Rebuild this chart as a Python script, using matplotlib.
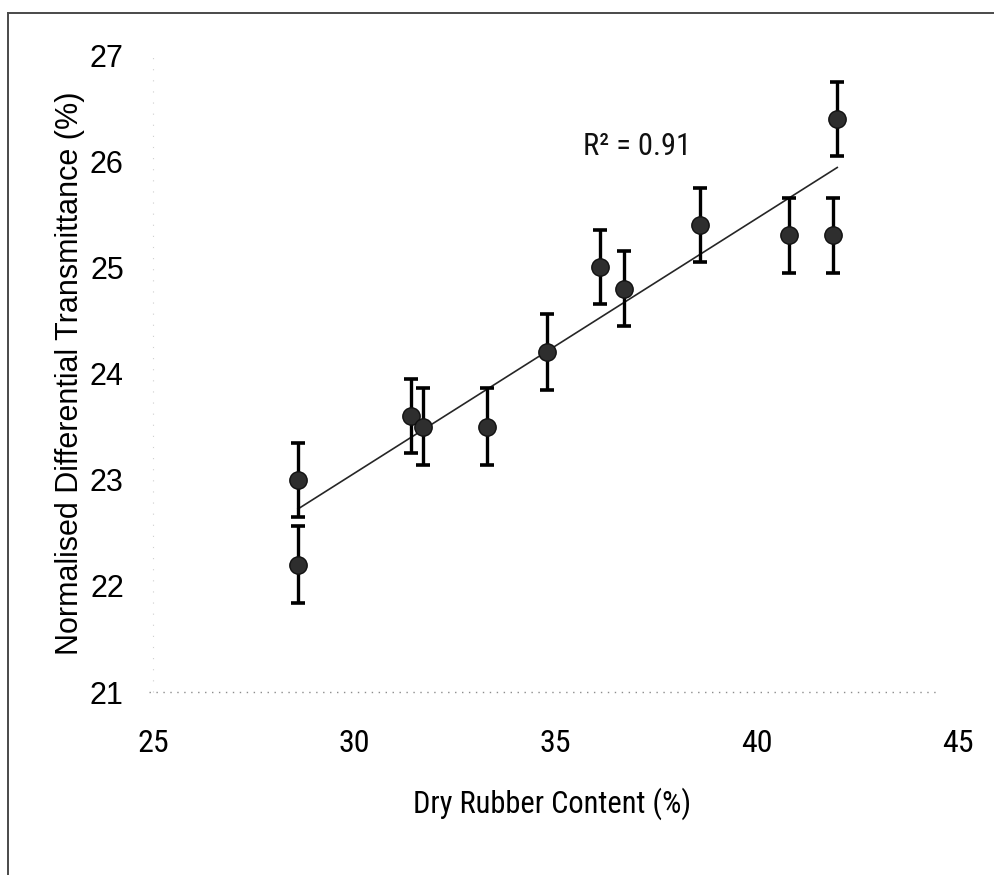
import matplotlib
matplotlib.use("Agg")
import matplotlib.pyplot as plt
import numpy as np

# Data
drc = [28.6, 28.6, 31.4, 31.7, 33.3, 34.8, 36.1, 36.7, 38.6, 40.8, 41.9, 42.0]
ndt = [23.0, 22.2, 23.6, 23.5, 23.5, 24.2, 25.0, 24.8, 25.4, 25.3, 25.3, 26.4]
err = [0.35, 0.36, 0.35, 0.36, 0.36, 0.36, 0.35, 0.35, 0.35, 0.35, 0.35, 0.35]
x_ticks = [25, 30, 35, 40, 45]
y_ticks = [21, 22, 23, 24, 25, 26, 27]
r2_text = "R² = 0.91"

narrow = ["Roboto Condensed", "Liberation Sans Narrow", "Liberation Sans", "DejaVu Sans"]
regular = ["Liberation Sans", "DejaVu Sans"]

fig = plt.figure(figsize=(9.94, 8.75), dpi=100)
ax = fig.add_axes([153 / 994, 1 - 692 / 875, 805 / 994, 637 / 875])

ax.errorbar(drc, ndt, yerr=err, fmt="o", color="#1a1a1a", ecolor="black",
            elinewidth=2.4, capsize=4.8, capthick=2.6, markersize=12.5,
            markeredgecolor="#111111", markerfacecolor="#2e2e2e", zorder=3)

# linear trend line
coef = np.polyfit(drc, ndt, 1)
xs = np.array([min(drc), max(drc)])
ax.plot(xs, np.polyval(coef, xs), color="#262626", linewidth=1.2, zorder=2)

ax.text(35.68, 26.06, r2_text, fontsize=22, family=narrow, color="#111111",
        ha="left", va="baseline")

ax.set_xlim(25, 45)
ax.set_ylim(21, 27)
ax.set_xticks(x_ticks)
ax.set_yticks(y_ticks)
ax.set_xticklabels([str(t) for t in x_ticks], family=narrow, fontsize=23)
ax.set_yticklabels([str(t) for t in y_ticks], family=regular, fontsize=22)
ax.tick_params(axis="x", length=0, pad=27)
ax.tick_params(axis="y", length=0, pad=21)
for s in ax.spines.values():
    s.set_visible(False)

# faint dotted axis lines (scan remnants)
ax.plot([-0.005, 0.973], [0, 0], transform=ax.transAxes, color="#8c8c8c",
        linewidth=1.0, linestyle=(0, (1, 4)), clip_on=False, zorder=1)
ax.plot([0, 0], [0, 1], transform=ax.transAxes, color="#cfcfcf",
        linewidth=0.8, linestyle=(0, (1, 9)), clip_on=False, zorder=1)

ax.set_xlabel("Dry Rubber Content (%)", family=narrow, fontsize=22)
ax.xaxis.set_label_coords(0.4957, -0.150)
ax.set_ylabel("Normalised Differential Transmittance (%)", family=regular,
              fontsize=22)
ax.yaxis.set_label_coords(-0.085, 0.5)

# scan border (left and top)
fig.add_artist(plt.Line2D([8 / 994, 8 / 994], [0.0, 1 - 13 / 875],
                          transform=fig.transFigure, color="#4a4a4a", linewidth=1.4))
fig.add_artist(plt.Line2D([8 / 994, 1.0], [1 - 13 / 875, 1 - 13 / 875],
                          transform=fig.transFigure, color="#4a4a4a", linewidth=1.4))

fig.savefig("out.png", dpi=100)
